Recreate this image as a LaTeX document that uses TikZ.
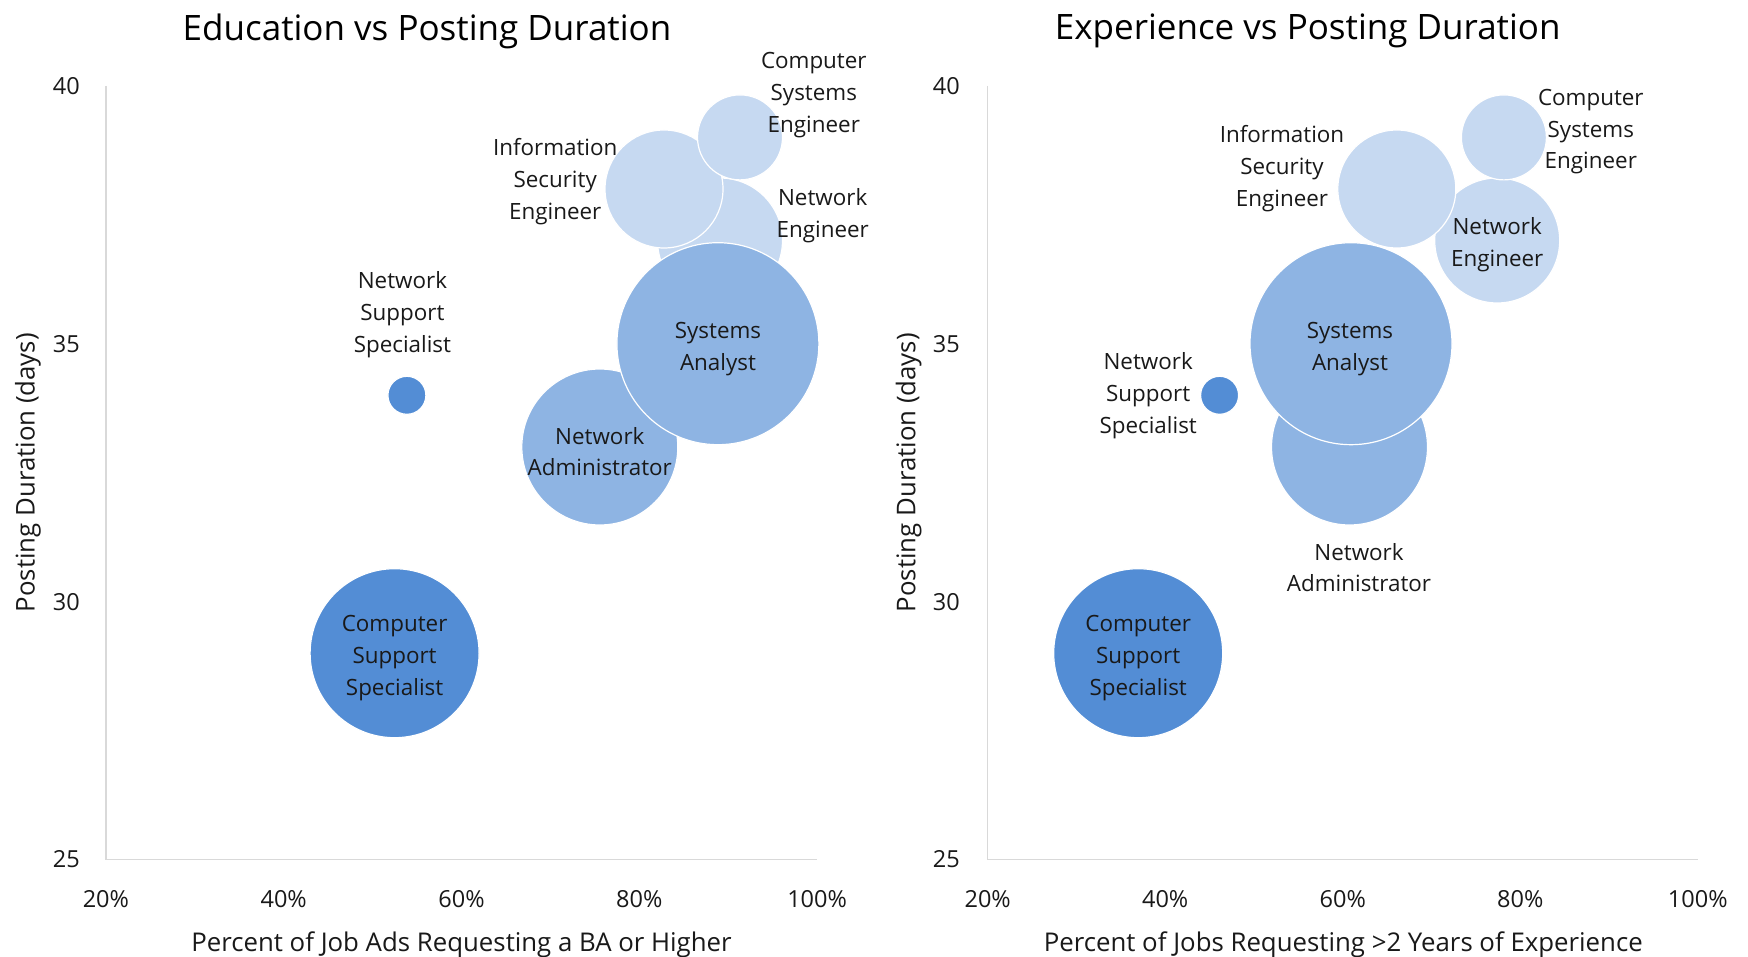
\documentclass[tikz,border=0pt]{standalone}
\usepackage{fontspec}
\setmainfont{Open Sans}
\definecolor{cdark}{RGB}{83,141,213}
\definecolor{cmed}{RGB}{142,180,227}
\definecolor{clight}{RGB}{198,217,241}
\definecolor{caxis}{RGB}{217,217,217}
\definecolor{ctext}{RGB}{25,25,25}
\begin{document}
\begin{tikzpicture}[x=1pt,y=-1pt,
  bubble/.style={circle,inner sep=0pt,draw=white,line width=1.2pt},
  lbl/.style={align=center,text=ctext,font=\fontsize{22.4}{31.8}\selectfont,inner sep=0pt,yshift=-3.5pt},
  tick/.style={text=ctext,font=\fontsize{23.5}{27}\selectfont,inner sep=0pt},
  ttl/.style={text=black,font=\fontsize{35}{40}\selectfont,inner sep=0pt},
  axt/.style={text=ctext,font=\fontsize{25.8}{30}\selectfont,inner sep=0pt},
  axisline/.style={draw=caxis,line width=1.5pt}]
\useasboundingbox[fill=white] (0,0) rectangle (1748,957);

% ---------------- Left chart ----------------
\node[ttl] (ltitle) at (427,31) {Education vs Posting Duration};
\coordinate (ltop) at (105.9,85.8);
\coordinate (lorig) at (105.9,859.5);
\coordinate (lright) at (817.1,859.5);
\draw[axisline] (ltop) -- (lorig) -- (lright);
\node[tick,anchor=east] (ly40) at (80,85.8) {40};
\node[tick,anchor=east] (ly35) at (80,343.7) {35};
\node[tick,anchor=east] (ly30) at (80,601.6) {30};
\node[tick,anchor=east] (ly25) at (80,859.5) {25};
\node[tick] (lx20) at (105.9,899) {20\%};
\node[tick] (lx40) at (283.7,899) {40\%};
\node[tick] (lx60) at (461.5,899) {60\%};
\node[tick] (lx80) at (639.3,899) {80\%};
\node[tick] (lx100) at (817.1,899) {100\%};
\node[axt] (lxt) at (461.5,945) {Percent of Job Ads Requesting a BA or Higher};
\node[axt,rotate=90] (lyt) at (28,472.7) {Posting Duration (days)};

\node[bubble,fill=clight,minimum size=125pt] (lne) at (720,240.5) {};
\node[bubble,fill=clight,minimum size=118pt] (lise) at (664,189) {};
\node[bubble,fill=clight,minimum size=85pt] (lcse) at (740,137.4) {};
\node[bubble,fill=cmed,minimum size=156pt] (lna) at (599.8,447) {};
\node[bubble,fill=cmed,minimum size=202pt] (lsa) at (717.9,343.7) {};
\node[bubble,fill=cdark,minimum size=38pt] (lnss) at (406.9,395.3) {};
\node[bubble,fill=cdark,minimum size=169pt] (lcss) at (394.6,653.2) {};

\node[lbl] (lcsel) at (813.8,91.4) {Computer\\Systems\\Engineer};
\node[lbl] (lisel) at (555.2,178.4) {Information\\Security\\Engineer};
\node[lbl] (lnel) at (822.7,211.8) {Network\\Engineer};
\node[lbl] (lnssl) at (402.4,311) {Network\\Support\\Specialist};
\node[lbl] (lsal) at (718,345.6) {Systems\\Analyst};
\node[lbl] (lnal) at (599.8,448) {Network\\Administrator};
\node[lbl] (lcssl) at (394.6,654.4) {Computer\\Support\\Specialist};

% ---------------- Right chart ----------------
\node[ttl] (rtitle) at (1307.7,31) {Experience vs Posting Duration};
\coordinate (rtop) at (987.7,85.8);
\coordinate (rorig) at (987.7,859.5);
\coordinate (rright) at (1697.8,859.5);
\draw[axisline] (rtop) -- (rorig) -- (rright);
\node[tick,anchor=east] (ry40) at (960,85.8) {40};
\node[tick,anchor=east] (ry35) at (960,343.7) {35};
\node[tick,anchor=east] (ry30) at (960,601.6) {30};
\node[tick,anchor=east] (ry25) at (960,859.5) {25};
\node[tick] (rx20) at (987.7,899) {20\%};
\node[tick] (rx40) at (1165.2,899) {40\%};
\node[tick] (rx60) at (1342.8,899) {60\%};
\node[tick] (rx80) at (1520.3,899) {80\%};
\node[tick] (rx100) at (1697.8,899) {100\%};
\node[axt] (rxt) at (1343.3,945) {Percent of Jobs Requesting >2 Years of Experience};
\node[axt,rotate=90] (ryt) at (908.6,472.7) {Posting Duration (days)};

\node[bubble,fill=clight,minimum size=125pt] (rne) at (1497.2,240.5) {};
\node[bubble,fill=clight,minimum size=118pt] (rise) at (1396.8,189) {};
\node[bubble,fill=clight,minimum size=85pt] (rcse) at (1503.9,137.4) {};
\node[bubble,fill=cmed,minimum size=156pt] (rna) at (1349.5,447) {};
\node[bubble,fill=cmed,minimum size=202pt] (rsa) at (1351,343.7) {};
\node[bubble,fill=cdark,minimum size=38pt] (rnss) at (1219.6,395.3) {};
\node[bubble,fill=cdark,minimum size=169pt] (rcss) at (1138.2,653.2) {};

\node[lbl] (rcsel) at (1590.8,128.2) {Computer\\Systems\\Engineer};
\node[lbl] (risel) at (1282,165) {Information\\Security\\Engineer};
\node[lbl] (rnel) at (1497.2,240.8) {Network\\Engineer};
\node[lbl] (rnssl) at (1148.2,392.4) {Network\\Support\\Specialist};
\node[lbl] (rsal) at (1350,345.6) {Systems\\Analyst};
\node[lbl] (rnal) at (1359,564) {Network\\Administrator};
\node[lbl] (rcssl) at (1138.2,654.4) {Computer\\Support\\Specialist};
\end{tikzpicture}
\end{document}
